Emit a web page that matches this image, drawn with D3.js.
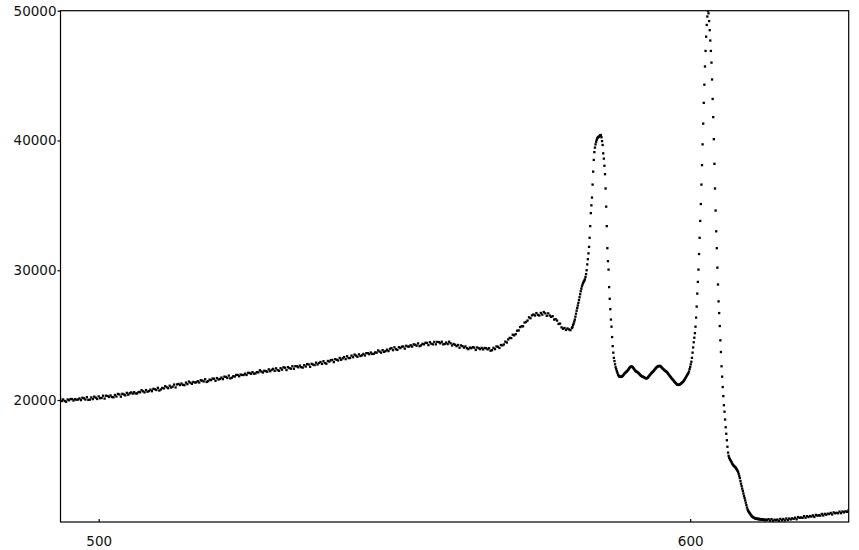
<!DOCTYPE html>
<html>
<head>
<meta charset="utf-8">
<script src="https://cdn.jsdelivr.net/npm/d3@7/dist/d3.min.js"></script>
<style>
  html, body { margin: 0; padding: 0; background: #fff; }
  svg { display: block; }
  .tick text { font-family: "DejaVu Sans", sans-serif; font-size: 13.5px; fill: #111; }
</style>
</head>
<body>
<div id="chart"></div>
<script>
// ---- data (wavelength in nm, intensity in counts) ----
const seg1Start = 493.5, seg1Step = 0.25;
const seg1Intensity = [
20100,19920,20040,19920, 19870,20040,19980,20080, 20070,19960,20070,20020, 20040,20120,19990,20170,
20130,20040,20220,20010, 20030,20200,20070,20260, 20180,20080,20280,20140, 20160,20330,20110,20330,
20310,20230,20350,20230, 20210,20390,20270,20470, 20430,20260,20480,20420, 20360,20550,20410,20520,
20590,20490,20600,20500, 20510,20620,20600,20760, 20670,20590,20770,20640, 20690,20800,20680,20860,
20830,20770,20940,20730, 20810,20930,20890,21070, 20980,20910,21100,20960, 21030,21190,20970,21200,
21240,21150,21270,21170, 21140,21340,21220,21420, 21340,21250,21390,21350, 21360,21450,21350,21520,
21500,21430,21600,21390, 21450,21570,21530,21650, 21640,21480,21690,21580, 21620,21730,21610,21800,
21780,21700,21880,21670, 21720,21830,21810,21930, 21930,21830,21960,21930, 21930,22030,21930,22100,
22080,22020,22150,22030, 22050,22150,22130,22290, 22200,22120,22260,22220, 22180,22360,22220,22330,
22400,22240,22440,22300, 22250,22450,22340,22520, 22490,22310,22530,22460, 22410,22600,22410,22610,
22600,22520,22650,22530, 22500,22690,22580,22770, 22740,22560,22790,22730, 22690,22880,22740,22850,
22930,22780,22990,22850, 22800,23010,22960,23070, 23090,22920,23150,23100, 23050,23240,23100,23210,
23310,23150,23370,23230, 23240,23420,23300,23500, 23420,23330,23520,23390, 23440,23550,23430,23610,
23610,23530,23660,23550, 23560,23670,23650,23820, 23730,23650,23840,23710, 23770,23880,23770,23950,
24000,23840,24060,23910, 23870,24070,24000,24110, 24120,23960,24180,24120, 24120,24220,24120,24290,
24260,24190,24360,24150, 24210,24330,24290,24410, 24400,24230,24450,24340, 24290,24480,24290,24480,
24460,24370,24490,24290, 24320,24430,24310,24490, 24370,24200,24320,24260, 24150,24240,24030,24210,
24150,24040,24130,23990, 23920,24040,23990,24070, 24040,23860,24050,23990, 23920,24020,23900,24010,
23990,23900,23990,23800, 23840,24020,23920,24130, 24100,24010,24240,24210, 24280,24500,24430,24670,
24790,24770,25030,24980, 25080,25340,25360,25620, 25680,25680,25970,26010, 26120,26370,26300,26520,
26590,26510,26700,26560, 26510,26710,26580,26780, 26680,26490,26680,26510, 26410,26460,26200,26230,
26120,25860,25890,25600, 25490,25550,25400,25510, 25440,25380
];

const seg2Start = 580.0, seg2Step = 0.1;
const seg2Intensity = [
25550,25620,25780,25900,26050,26200,26420,26650,26880,27080,
27280,27480,27700,27920,28150,28380,28580,28760,28900,29020,
29120,29200,29300,29480,29700,30000,30450,30850,31300,31800,
32500,33400,34400,35000,35600,36600,37600,38500,39100,39450,
39700,39900,40050,40180,40230,40270,40300,40360,40400,40420,
40250,39950,39650,39010,38600,38050,37400,36300,34900,33400,
31700,30700,30050,28700,27800,27000,26200,25650,24850,24150,
23650,23250,23000,22750,22520,22380,22220,22100,21960,21880,
21820,21800,21780,21790,21800,21830,21870,21920,21980,22040,
22080,22130,22170,22210,22260,22320,22380,22450,22510,22550,
22570,22580,22560,22520,22460,22400,22330,22270,22220,22190,
22170,22140,22100,22060,22010,21960,21910,21870,21840,21810,
21790,21770,21740,21710,21690,21680,21670,21680,21710,21760,
21820,21880,21930,21990,22050,22100,22140,22180,22230,22290,
22350,22410,22460,22510,22550,22580,22600,22620,22630,22620,
22590,22550,22500,22450,22400,22360,22320,22280,22240,22210,
22180,22130,22070,22010,21950,21890,21830,21770,21710,21650,
21600,21550,21490,21430,21380,21330,21280,21230,21190,21170,
21160,21170,21190,21220,21250,21290,21330,21370,21410,21470,
21540,21610,21690,21770,21850,21930,22010,22080,22200,22380,
22550,22750,22950,23250,23650,24050,24450,24800,25150,25650,
26350,27200,28200,29100,30050,31250,32500,33800,35100,36600,
38100,39700,41300,42900,44300,45700,46900,48000,48900,49550,
50000,49800,49200,48500,47700,46900,46000,44700,43200,41800,
40100,38200,36300,34600,33000,31700,30200,28900,27600,26700,
25700,24600,23700,22600,21800,21000,20300,19600,19100,18500,
17900,17400,16900,16400,15950,15700,15550,15450,15370,15290,
15200,15110,15030,14970,14920,14870,14830,14780,14710,14630,
14550,14460,14310,14140,13980,13750,13550,13360,13170,12990,
12800,12620,12450,12270,12090,11900,11720,11570,11470,11390,
11320,11260,11190,11120,11060,11010,10980,10950,10920,10900,
10880,10860,10840,10870,10830,10820,10850,10800,10830,10790,
10810,10770,10800,10760,10790,10750,10780,10740,10770,10750,
10760
];

const seg3Start = 613.25, seg3Step = 0.25;
const seg3Intensity = [
10820,10700,10820,10690, 10780,10740,10790,10680, 10840,10720,10830,10720, 10870,10750,10870,10800,
10880,10840,10930,10810, 10980,10920,10950,10920, 11050,10930,11050,10980, 11060,11020,11110,10990,
11150,11090,11120,11090, 11220,11100,11230,11160, 11240,11210,11300,11180, 11340,11270,11310,11270,
11400,11280,11410,11340, 11420,11380,11480
];

const xTicks = [500, 600];
const yTicks = [20000, 30000, 40000, 50000];
const xDomain = [493.46, 626.8];
const yDomain = [10600, 50000];

// ---- build point list ----
function expand(start, step, vals) {
  return vals.map((v, i) => ({ w: start + i * step, v: v }));
}
const points = [
  ...expand(seg1Start, seg1Step, seg1Intensity),
  ...expand(seg2Start, seg2Step, seg2Intensity),
  ...expand(seg3Start, seg3Step, seg3Intensity)
];

// ---- layout ----
const W = 859, H = 550;
const pLeft = 60, pRight = 848.7, pTop = 10.7, pBottom = 522;

const x = d3.scaleLinear().domain(xDomain).range([pLeft, pRight]);
const y = d3.scaleLinear().domain(yDomain).range([pBottom, pTop]);

const svg = d3.select("#chart").append("svg")
  .attr("width", W).attr("height", H);

svg.append("defs").append("clipPath").attr("id", "plotclip")
  .append("rect")
  .attr("x", pLeft).attr("y", pTop)
  .attr("width", pRight - pLeft).attr("height", pBottom - pTop);

// points
const ds = 2.3;
svg.append("g").attr("clip-path", "url(#plotclip)")
  .selectAll("rect").data(points).enter().append("rect")
  .attr("x", d => x(d.w) - ds / 2)
  .attr("y", d => y(d.v) - ds / 2)
  .attr("width", ds).attr("height", ds)
  .attr("fill", "#000");

// frame
svg.append("rect")
  .attr("x", pLeft + 0.5).attr("y", pTop)
  .attr("width", pRight - pLeft - 0.5).attr("height", pBottom - pTop)
  .attr("fill", "none").attr("stroke", "#000").attr("stroke-width", 1.2);

// y axis
const yAxis = svg.append("g")
  .attr("transform", `translate(${pLeft + 0.5},0)`)
  .call(d3.axisLeft(y).tickValues(yTicks).tickSize(3).tickPadding(1).tickFormat(d3.format("d")));
yAxis.select(".domain").remove();
yAxis.selectAll(".tick line").attr("stroke", "#000").attr("stroke-width", 1.2);

// x axis
const xAxis = svg.append("g")
  .attr("transform", `translate(0,${pBottom})`)
  .call(d3.axisBottom(x).tickValues(xTicks).tickSizeInner(-3).tickSizeOuter(0).tickPadding(14).tickFormat(d3.format("d")));
xAxis.select(".domain").remove();
xAxis.selectAll(".tick line").attr("stroke", "#000").attr("stroke-width", 1.2);
</script>
</body>
</html>
